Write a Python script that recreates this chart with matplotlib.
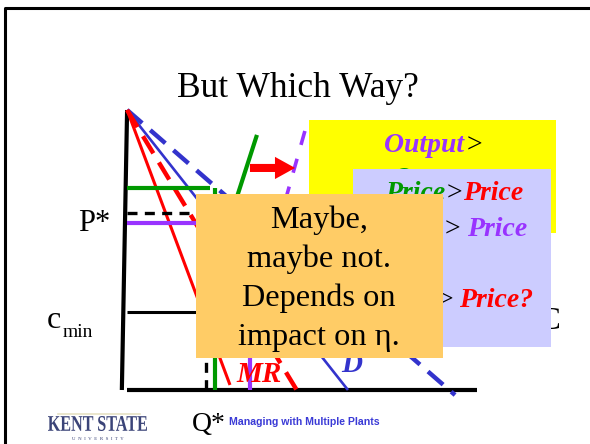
import matplotlib
matplotlib.use('Agg')
import matplotlib.pyplot as plt
from matplotlib.patches import Rectangle, PathPatch
from matplotlib.transforms import Affine2D
from matplotlib.textpath import TextPath
from matplotlib.font_manager import FontProperties

# ---------------- data (economic units: Q horizontal, P vertical) ----------------
yaxis_q = [0.06, -0.09]; yaxis_p = [10.0, 0.0]
xaxis_q = [0.06, 10.06]; xaxis_p = [0.0, 0.0]
demand_q = [0.06, 6.37]; demand_p = [10.0, 0.0]
demand_new_q = [0.06, 9.43]; demand_new_p = [10.0, -0.18]
mr_q = [0.06, 3.0]; mr_p = [10.0, 0.18]
mr_new_q = [0.06, 4.94]; mr_new_p = [10.0, -0.07]
green_price_q = [0.06, 2.43]; green_price_p = [7.21, 7.21]
green_out_q = [2.57, 2.57]; green_out_p = [7.21, 0.0]
green_mc_q = [3.77, 2.57]; green_mc_p = [9.11, 4.46]
pstar_q = [0.06, 2.2]; pstar_p = [6.32, 6.32]
purple_price_q = [0.06, 2.2]; purple_price_p = [5.96, 5.96]
purple_out_q = [3.57, 3.57]; purple_out_p = [1.6, 0.0]
cmin_q = [0.06, 8.9]; cmin_p = [2.79, 2.79]
qstar_q = [2.31, 2.31]; qstar_p = [1.6, 0.0]
purple_mc_q = [5.14, 4.1]; purple_mc_p = [9.25, 4.64]
shift_q = [3.57, 4.86]; shift_p = [7.93, 7.93]

title = "But Which Way?"
orange_lines = ["Maybe,", "maybe not.", "Depends on", "impact on \u03b7."]
footer = "Managing with Multiple Plants"

RED = '#FF0000'; BLUE = '#3333CC'; GREEN = '#009900'; PURPLE = '#9933FF'
SERIF = 'Liberation Serif'

fig = plt.figure(figsize=(5.9, 4.44), dpi=100)
ax = fig.add_axes([0, 0, 1, 1])
ax.set_xlim(0, 590)
ax.set_ylim(444, 0)
ax.axis('off')
renderer = fig.canvas.get_renderer()

# economic coordinates -> slide pixel coordinates
econ = Affine2D().scale(35, -28).translate(125, 390) + ax.transData

def dl(q, p, color, lw, dash=None, z=2, cap='butt'):
    ls = '-' if dash is None else (0, dash)
    ax.plot(q, p, color=color, lw=lw, ls=ls, transform=econ, zorder=z,
            solid_capstyle=cap, dash_capstyle='butt')

# slide border
ax.plot([5, 5, 590], [444, 8, 8], color='black', lw=2.2, zorder=1)

# axes of diagram
dl(yaxis_q, yaxis_p, 'black', 3.0)
dl(xaxis_q, xaxis_p, 'black', 3.0)
# curves
dl(demand_new_q, demand_new_p, BLUE, 3.2, dash=(4.5, 2.4))
dl(demand_q, demand_p, BLUE, 1.9)
dl(mr_new_q, mr_new_p, RED, 3.2, dash=(4.5, 2.4))
dl(mr_q, mr_p, RED, 2.2)
dl(green_price_q, green_price_p, GREEN, 3.0)
dl(green_out_q, green_out_p, GREEN, 3.0)
dl(green_mc_q, green_mc_p, GREEN, 3.0)
dl(pstar_q, pstar_p, 'black', 2.4, dash=(3.0, 2.2))
dl(purple_price_q, purple_price_p, PURPLE, 3.0)
dl(purple_out_q, purple_out_p, PURPLE, 3.0)
dl(cmin_q, cmin_p, 'black', 2.2)
dl(qstar_q, qstar_p, 'black', 2.4, dash=(3.0, 2.2))
dl(purple_mc_q, purple_mc_p, PURPLE, 2.6, dash=(4.0, 4.0))
ax.annotate('', xy=(shift_q[1], shift_p[1]), xycoords=econ,
            xytext=(shift_q[0], shift_p[0]), textcoords=econ,
            arrowprops=dict(arrowstyle='simple,head_length=1.45,head_width=1.6,tail_width=0.58',
                            color=RED, shrinkA=0, shrinkB=0, mutation_scale=10, lw=0),
            zorder=2)

# curve labels
ax.text(6.48, 0.65, 'D', transform=econ, color=BLUE, fontsize=21, family=SERIF,
        fontweight='bold', fontstyle='italic', ha='center', va='baseline', zorder=2)
ax.text(3.84, 0.29, 'MR', transform=econ, color=RED, fontsize=21, family=SERIF,
        fontweight='bold', fontstyle='italic', ha='center', va='baseline', zorder=2)

# axis labels
ax.text(78, 231, 'P*', fontsize=22, family=SERIF, va='baseline', ha='left')
ax.text(47, 328, 'c', fontsize=23, family=SERIF, va='baseline', ha='left')
ax.text(63, 337, 'min', fontsize=14, family=SERIF, va='baseline', ha='left')
ax.text(192, 431, 'Q*', fontsize=20, family=SERIF, va='baseline', ha='left')
ax.text(561, 329, 'MC', fontsize=23, family=SERIF, va='baseline', ha='right', zorder=2)

# title
ax.text(298, 97, title, fontsize=25.5, family=SERIF, ha='center', va='baseline')

# footer
ax.text(229, 425, footer, fontsize=7.6, family='Liberation Sans', fontweight='bold',
        color='#3A3AD6', ha='left', va='baseline')

# logo
fp = FontProperties(family=SERIF, weight='bold')
tp = TextPath((0, 0), "KENT STATE", size=1, prop=fp)
ext = tp.get_extents()
tr = Affine2D().translate(-ext.x0, -ext.y0).scale(99 / ext.width, -15 / ext.height).translate(48, 431)
ax.add_patch(PathPatch(tp, transform=tr + ax.transData, color='#3b4478', lw=0, zorder=3))
ax.text(98, 440, 'U  N  I  V  E  R  S  I  T  Y', fontsize=3.6, family=SERIF, color='#3b4478',
        ha='center', va='baseline')
ax.plot([58, 140], [414, 414], color='#e6e1c4', lw=1.2, zorder=1)


def rich(x, y, parts, ha, size, z, clip=None):
    texts, widths = [], []
    for s, color, bold, gap in parts:
        t = ax.text(0, y, s, color=color, fontsize=size, family=SERIF,
                    fontweight='bold' if bold else 'normal',
                    fontstyle='italic' if bold else 'normal',
                    va='baseline', ha='left', zorder=z)
        if clip is not None:
            t.set_clip_path(clip)
        w = t.get_window_extent(renderer).width + gap
        texts.append(t); widths.append(w)
    total = sum(widths)
    x0 = x - total if ha == 'right' else (x - total / 2 if ha == 'center' else x)
    for t, w in zip(texts, widths):
        t.set_x(x0)
        x0 += w

# yellow box
ybox = Rectangle((309, 120), 247, 113, facecolor='#FFFF00', edgecolor='none', zorder=3)
ax.add_patch(ybox)
rich(433, 152, [('Output', PURPLE, True, 2), ('>', 'black', False, 0)], 'center', 20, 4)
top_clip = Rectangle((309, 120), 247, 49, transform=ax.transData, facecolor='none', edgecolor='none')
ax.add_patch(top_clip)
rich(433, 186, [('Output', GREEN, True, 0)], 'center', 20, 4, clip=top_clip)

# lavender box
ax.add_patch(Rectangle((353, 169), 198, 178, facecolor='#CCCCFF', edgecolor='none', zorder=5))
rich(523, 200, [('Price', GREEN, True, 1), ('>', 'black', False, 1), ('Price', RED, True, 0)], 'right', 20, 6)
rich(527, 236, [('>', 'black', False, 6), ('Price', PURPLE, True, 0)], 'right', 20, 6)
rich(533, 307, [('>', 'black', False, 6), ('Price?', RED, True, 0)], 'right', 20, 6)

# orange box
ax.add_patch(Rectangle((196, 194), 247, 164, facecolor='#FFCC66', edgecolor='none', zorder=7))
for line, base in zip(orange_lines, [228, 267, 306, 345]):
    ax.text(319, base, line, fontsize=23.3, family=SERIF, ha='center', va='baseline', zorder=8)

fig.savefig('out.png', dpi=100)
